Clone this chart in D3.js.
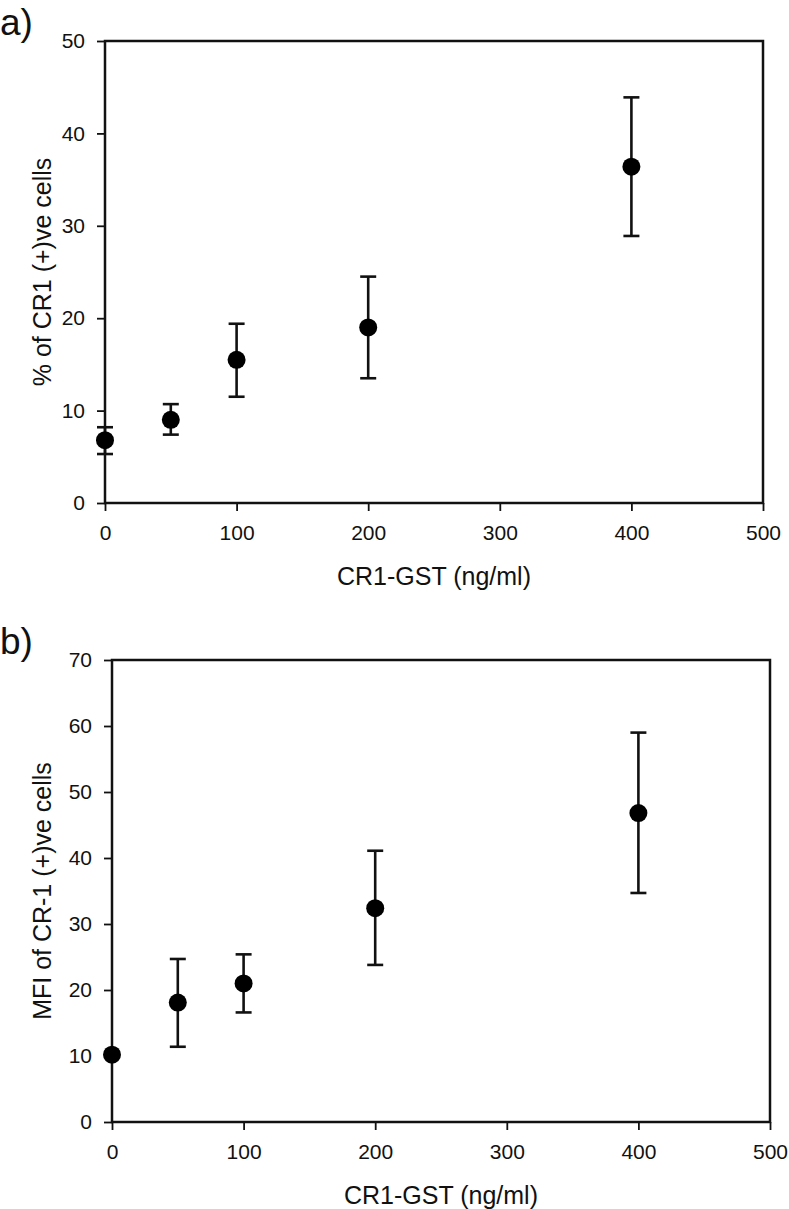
<!DOCTYPE html>
<html><head><meta charset="utf-8">
<script src="https://cdn.jsdelivr.net/npm/d3@7"></script>
<style>
html,body{margin:0;padding:0;background:#fff;}
text{font-family:"Liberation Sans",Arial,sans-serif;fill:#111;}
</style></head>
<body><svg id="chart" width="789" height="1209"></svg>
<script>
// Panel a data
const concA = [0, 50, 100, 200, 400];
const pctA = [6.8, 9.0, 15.5, 19.0, 36.4];
const pctHiA = [8.2, 10.7, 19.4, 24.5, 43.9];
const pctLoA = [5.3, 7.4, 11.5, 13.5, 28.9];
const yTicksA = [0, 10, 20, 30, 40, 50];

// Panel b data
const concB = [0, 50, 100, 200, 400];
const mfiB = [10.2, 18.1, 21.0, 32.4, 46.8];
const mfiHiB = [10.2, 24.7, 25.4, 41.1, 59.0];
const mfiLoB = [10.2, 11.4, 16.6, 23.8, 34.7];
const yTicksB = [0, 10, 20, 30, 40, 50, 60, 70];

const xTicks = [0, 100, 200, 300, 400, 500];

const svg = d3.select("#chart");

function panel(cfg) {
  const {left, top, width, height, ymax, yTicks, xs, ys, hi, lo, ylabel, tag} = cfg;
  const g = svg.append("g").attr("transform", `translate(${left},${top})`);
  const x = d3.scaleLinear().domain([0, 500]).range([0, width]);
  const y = d3.scaleLinear().domain([0, ymax]).range([height, 0]);

  // frame
  g.append("rect").attr("x", 0).attr("y", 0).attr("width", width).attr("height", height)
    .attr("fill", "none").attr("stroke", "#111").attr("stroke-width", 2.5);

  const xa = g.append("g").attr("transform", `translate(0,${height})`)
    .call(d3.axisBottom(x).tickValues(xTicks).tickSize(8).tickPadding(14).tickFormat(d3.format("d")));
  const ya = g.append("g")
    .call(d3.axisLeft(y).tickValues(yTicks).tickSize(8).tickPadding(12).tickFormat(d3.format("d")));
  [xa, ya].forEach(a => {
    a.select(".domain").remove();
    a.selectAll(".tick line").attr("stroke", "#111").attr("stroke-width", 1.8);
    a.selectAll(".tick text").style("font-size", "21px").style("font-family", "'Liberation Sans',Arial,sans-serif").attr("fill", "#111");
  });

  // error bars
  const capW = 8;
  const data = xs.map((d, i) => ({x: d, y: ys[i], hi: hi[i], lo: lo[i]}));
  const eb = g.append("g").attr("stroke", "#111").attr("stroke-width", 2.6);
  data.filter(d => d.hi !== d.lo).forEach(d => {
    eb.append("line").attr("x1", x(d.x)).attr("x2", x(d.x)).attr("y1", y(d.hi)).attr("y2", y(d.lo));
    eb.append("line").attr("x1", x(d.x) - capW).attr("x2", x(d.x) + capW).attr("y1", y(d.hi)).attr("y2", y(d.hi));
    eb.append("line").attr("x1", x(d.x) - capW).attr("x2", x(d.x) + capW).attr("y1", y(d.lo)).attr("y2", y(d.lo));
  });
  g.append("g").selectAll("circle").data(data).join("circle")
    .attr("cx", d => x(d.x)).attr("cy", d => y(d.y)).attr("r", 9).attr("fill", "#000");

  // x title
  g.append("text").attr("x", width / 2).attr("y", height + 82).attr("text-anchor", "middle")
    .style("font-size", "25px").text("CR1-GST (ng/ml)");
  // y title
  g.append("text").attr("transform", `translate(${-left + 51},${height / 2}) rotate(-90)`)
    .attr("text-anchor", "middle").style("font-size", "25px").text(ylabel);
  // panel tag
  g.append("text").attr("x", -left).attr("y", -6).style("font-size", "37px").text(tag);
}

panel({left: 105, top: 41, width: 658, height: 462, ymax: 50, yTicks: yTicksA,
  xs: concA, ys: pctA, hi: pctHiA, lo: pctLoA, ylabel: "% of CR1 (+)ve cells", tag: "a)"});
panel({left: 112, top: 660, width: 658, height: 462, ymax: 70, yTicks: yTicksB,
  xs: concB, ys: mfiB, hi: mfiHiB, lo: mfiLoB, ylabel: "MFI of CR-1 (+)ve cells", tag: "b)"});
</script></body></html>
